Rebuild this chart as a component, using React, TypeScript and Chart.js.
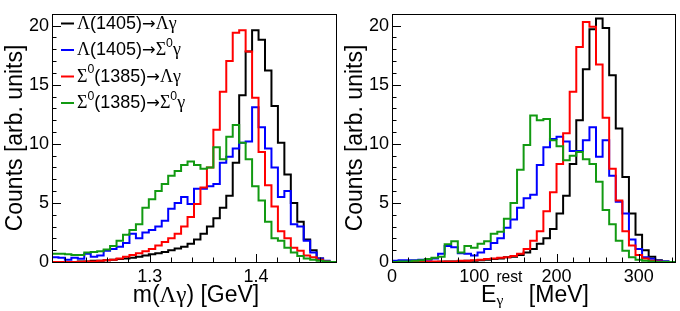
import React, { useEffect, useRef } from "react";
import { Chart, registerables } from "chart.js";

Chart.register(...registerables);

// ---------------- data ----------------
const seriesNames = [
  "Λ(1405)→Λγ",
  "Λ(1405)→Σ0γ",
  "Σ0(1385)→Λγ",
  "Σ0(1385)→Σ0γ",
];

// Left panel: m(Λγ) [GeV], 44 bins
const massAxisMin = 1.2082;
const massAxisMax = 1.4752;
const massBinCount = 44;
const massTicks = [1.3, 1.4];

const massL1405ToLambda = [0, 0, 0, 0, 0.05, 0.05, 0.1, 0.1, 0.15, 0.2, 0.25, 0.3, 0.35, 0.45, 0.55, 0.65, 0.75, 0.85, 1.0, 1.15, 1.3, 1.55, 1.9, 2.4, 3.0, 3.7, 4.6, 5.6, 8.4, 14.1, 17.8, 19.6, 18.8, 16.2, 13.2, 10.1, 7.4, 5.0, 3.4, 1.9, 1.0, 0.3, 0.05, 0];
const massL1405ToSigma = [0.4, 0.35, 0.2, 0.35, 0.27, 0.7, 0.45, 0.55, 0.95, 1.1, 1.3, 1.6, 2.4, 2.0, 2.5, 2.7, 3.0, 3.5, 4.5, 5.0, 5.5, 4.9, 6.2, 6.2, 6.4, 6.6, 8.4, 8.9, 9.6, 10.1, 10.2, 13.1, 11.4, 9.6, 8.0, 5.5, 6.0, 3.2, 3.0, 1.8, 0.8, 0.3, 0.1, 0];
const massS1385ToLambda = [0, 0, 0, 0, 0.02, 0.05, 0.05, 0.1, 0.15, 0.2, 0.3, 0.45, 0.6, 0.75, 0.9, 1.1, 1.4, 1.7, 2.0, 2.4, 3.0, 3.8, 4.9, 6.3, 8.0, 11.2, 14.4, 17.0, 19.4, 19.6, 17.8, 13.9, 9.3, 6.5, 4.7, 2.6, 2.0, 1.2, 0.95, 0.55, 0.4, 0.2, 0.05, 0];
const massS1385ToSigma = [0.7, 0.7, 0.65, 0.6, 0.6, 0.8, 0.85, 0.9, 1.05, 1.35, 1.8, 2.3, 2.7, 3.2, 4.6, 5.3, 6.0, 6.6, 7.3, 7.7, 8.2, 8.5, 8.2, 7.9, 8.0, 9.7, 8.7, 10.6, 11.6, 10.1, 8.7, 6.4, 5.2, 3.4, 2.0, 1.8, 1.2, 0.8, 0.5, 0.3, 0.2, 0.1, 0.05, 0];

// Right panel: E_γ^rest [MeV], 43 bins of 8 MeV
const energyAxisMin = 0;
const energyAxisMax = 344;
const energyBinCount = 43;
const energyTicks = [0, 100, 200, 300];

const energyL1405ToLambda = [0, 0, 0, 0, 0, 0, 0, 0.02, 0.05, 0.05, 0.05, 0.1, 0.1, 0.15, 0.2, 0.25, 0.3, 0.4, 0.45, 0.6, 0.8, 1.1, 1.55, 2.0, 2.8, 4.1, 5.6, 8.3, 12.0, 16.3, 19.7, 20.6, 19.8, 15.8, 11.3, 7.2, 4.1, 2.3, 1.0, 0.45, 0.15, 0.05, 0];
const energyL1405ToSigma = [0.1, 0.15, 0.15, 0.15, 0.2, 0.2, 0.3, 0.7, 1.35, 1.25, 0.75, 0.7, 0.55, 0.8, 1.1, 1.6, 2.0, 2.9, 3.6, 4.6, 5.4, 5.7, 8.2, 9.7, 10.4, 10.6, 10.2, 9.4, 9.4, 10.3, 11.4, 8.9, 10.3, 7.3, 5.1, 4.1, 1.9, 1.1, 0.4, 0.27, 0.1, 0.05, 0];
const energyS1385ToLambda = [0, 0, 0, 0.02, 0.03, 0.05, 0.05, 0.05, 0.05, 0.05, 0.1, 0.1, 0.15, 0.2, 0.25, 0.3, 0.35, 0.4, 0.5, 0.7, 1.1, 1.8, 2.6, 4.3, 5.9, 8.3, 10.9, 14.4, 18.2, 20.3, 19.9, 16.7, 12.2, 7.9, 5.2, 2.6, 1.4, 0.6, 0.3, 0.1, 0.05, 0, 0];
const energyS1385ToSigma = [0, 0.05, 0.05, 0.1, 0.15, 0.25, 0.35, 0.45, 1.5, 1.75, 0.8, 1.35, 1.2, 1.55, 1.75, 2.4, 2.55, 3.65, 5.0, 7.8, 9.9, 12.4, 12.0, 12.1, 10.3, 9.8, 8.6, 9.0, 9.3, 8.7, 8.3, 6.8, 4.4, 3.2, 1.8, 0.95, 0.4, 0.2, 0.1, 0.05, 0, 0, 0];

// Count axis
const countAxisMax = 21;
const countTicks = [0, 5, 10, 15, 20];

// ---------------- styles ----------------
const SANS = '"Liberation Sans", Arial, Helvetica, sans-serif';
const SERIF = '"Liberation Serif", "Times New Roman", serif';
const ARROW = '"DejaVu Sans", sans-serif';
const seriesColors = ["#000000", "#0000ff", "#ff0000", "#129a12"];

type Seg = { t: string; f?: "serif" | "sans" | "arrow"; pos?: "sup" | "sub"; stack?: boolean };

function fontFamily(f?: string) {
  if (f === "serif") return SERIF;
  if (f === "arrow") return ARROW;
  return SANS;
}

function layoutRich(ctx: CanvasRenderingContext2D, segs: Seg[], size: number, supRaise: number, subDrop: number) {
  const items: { t: string; font: string; x: number; dy: number }[] = [];
  let x = 0;
  let pending: { x: number; w: number } | null = null;
  for (const s of segs) {
    const fs = s.pos ? size * 0.68 : s.f === "arrow" ? size * 0.9 : size;
    const font = `${fs}px ${fontFamily(s.f)}`;
    ctx.font = font;
    const w = ctx.measureText(s.t).width;
    const dy = s.pos === "sup" ? -size * supRaise : s.pos === "sub" ? size * subDrop : 0;
    if (pending) {
      items.push({ t: s.t, font, x: pending.x, dy });
      x = pending.x + Math.max(pending.w, w);
      pending = null;
      continue;
    }
    items.push({ t: s.t, font, x, dy });
    if (s.stack) pending = { x, w };
    else x += w;
  }
  return { items, width: x };
}

function drawRich(ctx: CanvasRenderingContext2D, segs: Seg[], x: number, y: number, size: number, align: "left" | "center", supRaise = 0.45, subDrop = 0.2) {
  const { items, width } = layoutRich(ctx, segs, size, supRaise, subDrop);
  const x0 = align === "center" ? x - width / 2 : x;
  ctx.textAlign = "left";
  ctx.textBaseline = "alphabetic";
  ctx.fillStyle = "#000";
  for (const it of items) {
    ctx.font = it.font;
    ctx.fillText(it.t, x0 + it.x, y + it.dy);
  }
}

const legendSegs: Seg[][] = [
  [{ t: "Λ", f: "serif" }, { t: "(1405)" }, { t: "→", f: "arrow" }, { t: "Λγ", f: "serif" }],
  [{ t: "Λ", f: "serif" }, { t: "(1405)" }, { t: "→", f: "arrow" }, { t: "Σ", f: "serif" }, { t: "0", pos: "sup" }, { t: "γ", f: "serif" }],
  [{ t: "Σ", f: "serif" }, { t: "0", pos: "sup" }, { t: "(1385)" }, { t: "→", f: "arrow" }, { t: "Λγ", f: "serif" }],
  [{ t: "Σ", f: "serif" }, { t: "0", pos: "sup" }, { t: "(1385)" }, { t: "→", f: "arrow" }, { t: "Σ", f: "serif" }, { t: "0", pos: "sup" }, { t: "γ", f: "serif" }],
];

const yTitleSegs: Seg[] = [{ t: "Counts [arb. units]" }];
const massTitleSegs: Seg[] = [{ t: "m(" }, { t: "Λγ", f: "serif" }, { t: ") [GeV]" }];
const energyTitleSegs: Seg[] = [{ t: "E" }, { t: "rest", pos: "sup", stack: true }, { t: "γ", f: "serif", pos: "sub" }, { t: " [MeV]" }];

function binEdges(min: number, max: number, n: number) {
  const w = (max - min) / n;
  return Array.from({ length: n + 1 }, (_, i) => min + i * w);
}

function histPoints(edges: number[], values: number[]) {
  const pts = [{ x: edges[0], y: 0 }];
  values.forEach((v, i) => pts.push({ x: edges[i], y: v }));
  pts.push({ x: edges[values.length], y: 0 });
  return pts;
}

type PanelCfg = {
  edges: number[];
  series: number[][];
  xMin: number;
  xMax: number;
  xTicks: number[];
  xMinor: number;
  xMajor: number;
  xFormat: (v: number) => string;
  padRight: number;
  xTitle: Seg[];
  xTitleCenter: number;
  xTitleSup: number;
  xTitleSub: number;
  legend: boolean;
};

function buildPanel(canvas: HTMLCanvasElement, cfg: PanelCfg) {
  const decor = {
    id: "decor",
    afterDraw(chart: any) {
      const ctx: CanvasRenderingContext2D = chart.ctx;
      const a = chart.chartArea;
      const xs = chart.scales.x;
      const ys = chart.scales.y;
      ctx.save();
      ctx.strokeStyle = "#000";
      ctx.lineWidth = 1;
      ctx.beginPath();
      for (let v = 0; v <= countAxisMax; v += 1) {
        const py = Math.round(ys.getPixelForValue(v)) + 0.5;
        const len = v % 5 === 0 ? 9 : 4.5;
        ctx.moveTo(a.left, py);
        ctx.lineTo(a.left + len, py);
      }
      const ratio = Math.round(cfg.xMajor / cfg.xMinor);
      const i0 = Math.ceil(cfg.xMin / cfg.xMinor - 1e-6);
      const i1 = Math.floor(cfg.xMax / cfg.xMinor + 1e-6);
      for (let i = i0; i <= i1; i++) {
        const v = i * cfg.xMinor;
        const px = Math.round(xs.getPixelForValue(v)) + 0.5;
        const len = i % ratio === 0 ? 8 : 4.5;
        ctx.moveTo(px, a.bottom);
        ctx.lineTo(px, a.bottom - len);
      }
      ctx.stroke();
      ctx.strokeRect(Math.round(a.left) + 0.5, Math.round(a.top) + 0.5, Math.round(a.right - a.left), Math.round(a.bottom - a.top));

      // y title (rotated)
      ctx.save();
      ctx.translate(22, 138);
      ctx.rotate(-Math.PI / 2);
      drawRich(ctx, yTitleSegs, 0, 0, 23, "center");
      ctx.restore();

      // x title
      drawRich(ctx, cfg.xTitle, cfg.xTitleCenter, 302, 23, "center", cfg.xTitleSup, cfg.xTitleSub);

      // legend
      if (cfg.legend) {
        const baselines = [28.5, 55, 81.5, 108];
        baselines.forEach((b, i) => {
          ctx.strokeStyle = seriesColors[i];
          ctx.lineWidth = 2;
          ctx.beginPath();
          ctx.moveTo(61, b - 5);
          ctx.lineTo(74, b - 5);
          ctx.stroke();
          drawRich(ctx, legendSegs[i], 77, b, 18, "left", 0.45, 0.2);
        });
      }
      ctx.restore();
    },
  };

  const datasets = cfg.series.map((vals, i) => ({
    label: seriesNames[i],
    data: histPoints(cfg.edges, vals),
    borderColor: seriesColors[i],
    backgroundColor: seriesColors[i],
    borderWidth: 2,
    pointRadius: 0,
    fill: false,
    stepped: "before" as const,
    order: 4 - i,
  }));

  return new Chart(canvas, {
    type: "line",
    data: { datasets },
    options: {
      animation: false,
      responsive: false,
      events: [],
      layout: { padding: { left: 0, right: cfg.padRight, top: 3, bottom: 0 } },
      plugins: { legend: { display: false }, tooltip: { enabled: false } },
      elements: { line: { borderJoinStyle: "miter", borderCapStyle: "butt", tension: 0 } },
      scales: {
        x: {
          type: "linear",
          min: cfg.xMin,
          max: cfg.xMax,
          grid: { display: false, drawTicks: false },
          border: { display: false },
          ticks: {
            font: { family: SANS, size: 18 },
            color: "#000",
            padding: 4,
            maxRotation: 0,
            autoSkip: false,
            callback: (v: any) => cfg.xFormat(Number(v)),
          },
          afterBuildTicks: (s: any) => {
            s.ticks = cfg.xTicks.map((v) => ({ value: v }));
          },
          afterFit: (s: any) => {
            s.height = 49;
          },
        },
        y: {
          type: "linear",
          min: 0,
          max: countAxisMax,
          grid: { display: false, drawTicks: false },
          border: { display: false },
          ticks: {
            font: { family: SANS, size: 18 },
            color: "#000",
            padding: 3,
            callback: (v: any) => String(v),
          },
          afterBuildTicks: (s: any) => {
            s.ticks = countTicks.map((v) => ({ value: v }));
          },
          afterFit: (s: any) => {
            s.width = 52;
          },
        },
      },
    } as any,
    plugins: [decor],
  });
}

export default function App() {
  const leftRef = useRef<HTMLCanvasElement>(null);
  const rightRef = useRef<HTMLCanvasElement>(null);

  useEffect(() => {
    const left = buildPanel(leftRef.current!, {
      edges: binEdges(massAxisMin, massAxisMax, massBinCount),
      series: [massL1405ToLambda, massL1405ToSigma, massS1385ToLambda, massS1385ToSigma],
      xMin: massAxisMin,
      xMax: massAxisMax,
      xTicks: massTicks,
      xMinor: 0.02,
      xMajor: 0.1,
      xFormat: (v) => v.toFixed(1),
      padRight: 4,
      xTitle: massTitleSegs,
      xTitleCenter: 196,
      xTitleSup: 0.45,
      xTitleSub: 0.2,
      legend: true,
    });
    const right = buildPanel(rightRef.current!, {
      edges: binEdges(energyAxisMin, energyAxisMax, energyBinCount),
      series: [energyL1405ToLambda, energyL1405ToSigma, energyS1385ToLambda, energyS1385ToSigma],
      xMin: energyAxisMin,
      xMax: energyAxisMax,
      xTicks: energyTicks,
      xMinor: 20,
      xMajor: 100,
      xFormat: (v) => String(Math.round(v)),
      padRight: 5,
      xTitle: energyTitleSegs,
      xTitleCenter: 195,
      xTitleSup: 0.87,
      xTitleSub: 0.15,
      legend: false,
    });
    return () => {
      left.destroy();
      right.destroy();
    };
  }, []);

  return (
    <div style={{ position: "absolute", left: 0, top: 0, width: 680, height: 311, background: "#fff" }}>
      <canvas ref={leftRef} width={340} height={311} style={{ position: "absolute", left: 0, top: 0, width: 340, height: 311, display: "block" }} />
      <canvas ref={rightRef} width={340} height={311} style={{ position: "absolute", left: 340, top: 0, width: 340, height: 311, display: "block" }} />
    </div>
  );
}
